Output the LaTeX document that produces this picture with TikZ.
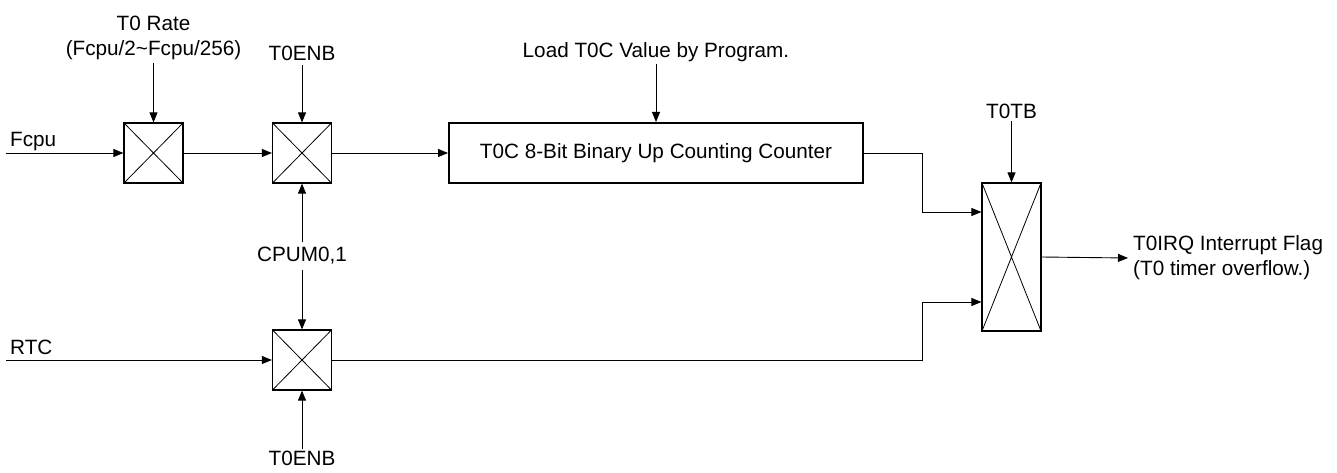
\documentclass[tikz,border=0pt]{standalone}
\usepackage{fontspec}
\setmainfont{Liberation Sans}
\usetikzlibrary{arrows.meta}

\begin{document}
\begin{tikzpicture}[x=1pt, y=-1pt]
\tikzstyle{sig} = [-{Triangle[length=10pt, width=8pt]}, line width = 0.9pt]
\tikzstyle{txt} = [font = \fontsize{20.7}{25}\selectfont, inner sep = 2pt, align = center]
\tikzset{crossbox/.style={draw, line width = 1.2pt, minimum width = 59pt, minimum height = 60pt, inner sep = 0pt,
  path picture={\draw[line width = 0.8pt] (path picture bounding box.north west) -- (path picture bounding box.south east)
  (path picture bounding box.south west) -- (path picture bounding box.north east);}}}
\useasboundingbox (0,0) rectangle (1337,473);

\node [crossbox] (ratesw) at (153.5,153) {};
\node [crossbox] (enbsw) at (302,153) {};
\node [crossbox] (rtcsw) at (302,360) {};
\node [crossbox, minimum height = 148pt] (tbsw) at (1011.5,257) {};
\node [txt, draw, line width = 2pt, minimum width = 414pt, minimum height = 60pt] (counter) at (656,153) {T0C 8-Bit Binary Up Counting Counter};

\node [txt, anchor = south, inner sep = 3pt] (rate) at (153.5,63) {T0 Rate\\(Fcpu/2\char`\~Fcpu/256)};
\node [txt, anchor = south, inner sep = 4pt] (enbtop) at (302,65) {T0ENB};
\node [txt, anchor = south] (load) at (656,64) {Load T0C Value by Program.};
\node [txt, anchor = south] (tb) at (1011.5,121) {T0TB};
\node [txt, inner sep = 5pt] (cpum) at (302,256) {CPUM0,1};
\node [txt, anchor = north] (enbbot) at (302,449) {T0ENB};
\node [txt, anchor = base west, inner sep = 0pt] (fcpu) at (10,147) {Fcpu};
\node [txt, anchor = base west, inner sep = 0pt] (rtc) at (10,354) {RTC};
\node [txt, anchor = west, align = left, inner sep = 5pt] (irq) at (1128,258) {T0IRQ Interrupt Flag\\(T0 timer overflow.)};
\coordinate (fcpuin) at (6,153);
\coordinate (rtcin) at (6,360);
\coordinate (knee) at (922,0);

\draw [sig] (fcpuin) -- (ratesw.west);
\draw [sig] (ratesw.east) -- (enbsw.west);
\draw [sig] (enbsw.east) -- (counter.west);
\draw [sig] (rtcin) -- (rtcsw.west);
\draw [sig] (rate.south) -- (ratesw.north);
\draw [sig] (enbtop.south) -- (enbsw.north);
\draw [sig] (load.south) -- (counter.north);
\draw [sig] (tb.south) -- (tbsw.north);
\draw [sig] (cpum.north) -- (enbsw.south);
\draw [sig] (cpum.south) -- (rtcsw.north);
\draw [sig] (enbbot.north) -- (rtcsw.south);
\draw [sig] (counter.east) -- (counter.east -| knee) |- ([yshift=45pt]tbsw.west);
\draw [sig] (rtcsw.east) -- (rtcsw.east -| knee) |- ([yshift=-45pt]tbsw.west);
\draw [sig] (tbsw.east) -- (irq.west);
\end{tikzpicture}
\end{document}
